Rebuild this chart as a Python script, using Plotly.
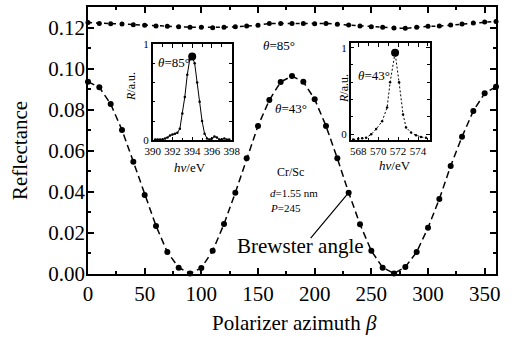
import plotly.graph_objects as go

# ---- data ----
beta = list(range(0, 361, 10))
r85 = [0.1224, 0.1220, 0.1219, 0.1217, 0.1214, 0.1211, 0.1207, 0.1206, 0.1204, 0.1202,
       0.1201, 0.1199, 0.1201, 0.1204, 0.1207, 0.1211, 0.1220, 0.1220, 0.1220, 0.1220,
       0.1219, 0.1220, 0.1216, 0.1212, 0.1207, 0.1204, 0.1201, 0.1198, 0.1196, 0.1201,
       0.1206, 0.1207, 0.1212, 0.1217, 0.1222, 0.1227, 0.1230]
r43 = [0.0936, 0.0909, 0.0828, 0.0701, 0.0547, 0.0385, 0.0234, 0.0107, 0.0031, 0.0003,
       0.0029, 0.0113, 0.0243, 0.0396, 0.0563, 0.0721, 0.0847, 0.0935, 0.0964, 0.0936,
       0.0851, 0.0721, 0.0563, 0.0396, 0.0242, 0.0113, 0.0031, 0.0003, 0.0034, 0.0107,
       0.0225, 0.0365, 0.0526, 0.0668, 0.0794, 0.0880, 0.0912]

# inset 1: spectrum at theta = 85 deg
e1 = [390.25, 390.5, 390.75, 391.0, 391.25, 391.5, 391.75, 392.0, 392.25, 392.5, 392.75,
      393.0, 393.25, 393.5, 393.75, 394.0, 394.25, 394.5, 394.75, 395.0, 395.25, 395.5,
      395.75, 396.0, 396.25, 396.5, 396.75, 397.0, 397.25, 397.5, 397.75]
s1 = [0.01, 0.01, 0.01, 0.01, 0.02, 0.03, 0.05, 0.06, 0.07, 0.08, 0.12,
      0.28, 0.45, 0.68, 0.84, 0.87, 0.80, 0.60, 0.40, 0.20, 0.07, 0.02,
      0.01, 0.02, 0.04, 0.03, 0.01, 0.01, 0.02, 0.01, 0.01]
peak1_e, peak1_r = [394.0], [0.87]

# inset 2: spectrum at theta = 43 deg
e2 = [567.5, 568.0, 568.4, 568.8, 569.3, 569.8, 570.4, 570.9, 571.2, 571.7,
      572.1, 572.5, 572.8, 573.3, 573.8, 574.3, 574.8]
s2 = [-0.06, -0.05, -0.045, -0.04, 0.0, 0.06, 0.15, 0.31, 0.60, 0.94,
      0.60, 0.23, 0.08, 0.02, -0.01, -0.03, -0.04]
peak2_e, peak2_r = [571.7], [0.94]

FONT = "Liberation Serif, DejaVu Serif, serif"
fig = go.Figure()

fig.add_trace(go.Scatter(x=beta, y=r85, mode="lines+markers", cliponaxis=False,
                         line=dict(color="black", width=1.5, dash="4px,4px"),
                         marker=dict(color="black", size=5), showlegend=False))
fig.add_trace(go.Scatter(x=beta, y=r43, mode="lines+markers", cliponaxis=False,
                         line=dict(color="black", width=1.5, dash="7px,4px"),
                         marker=dict(color="black", size=6), showlegend=False))

fig.add_trace(go.Scatter(x=e1, y=s1, xaxis="x2", yaxis="y2", mode="lines+markers",
                         line=dict(color="black", width=1), marker=dict(color="black", size=2.5),
                         showlegend=False))
fig.add_trace(go.Scatter(x=peak1_e, y=peak1_r, xaxis="x2", yaxis="y2", mode="markers",
                         marker=dict(color="black", size=8), showlegend=False))
fig.add_trace(go.Scatter(x=e2, y=s2, xaxis="x3", yaxis="y3", mode="lines+markers",
                         line=dict(color="black", width=1, dash="2px,2px"),
                         marker=dict(color="black", size=2.5), showlegend=False))
fig.add_trace(go.Scatter(x=peak2_e, y=peak2_r, xaxis="x3", yaxis="y3", mode="markers",
                         marker=dict(color="black", size=8), showlegend=False))

main_ax = dict(showline=True, linecolor="black", linewidth=1.5, mirror="ticks",
               ticks="inside", ticklen=6, tickwidth=1.5, tickcolor="black",
               showgrid=False, zeroline=False, automargin=False,
               tickfont=dict(family=FONT, size=21, color="black"))
inset_ax = dict(showline=True, linecolor="black", linewidth=1.5, mirror="ticks",
                ticks="inside", ticklen=4, tickwidth=1, tickcolor="black",
                showgrid=False, zeroline=False, tickangle=0, automargin=False,
                tickfont=dict(family=FONT, size=11, color="black"))

fig.update_layout(
    template="none",
    width=512, height=337,
    margin=dict(l=88, r=16, t=7, b=63, pad=0),
    paper_bgcolor="white", plot_bgcolor="white",
    font=dict(family=FONT, color="black"),
    xaxis=dict(main_ax, range=[0, 360], tick0=0, dtick=50,
               minor=dict(dtick=25, ticks="inside", ticklen=3, tickcolor="black")),
    yaxis=dict(main_ax, range=[0, 0.13], tick0=0, dtick=0.02, tickformat=".2f",
               ticklabelstandoff=-3,
               minor=dict(dtick=0.01, ticks="inside", ticklen=3, tickcolor="black")),
    xaxis2=dict(inset_ax, domain=[0.1586, 0.3522], anchor="y2", range=[390, 398],
                tickvals=[390, 392, 394, 396, 398],
                minor=dict(dtick=1, ticks="inside", ticklen=3, tickcolor="black")),
    yaxis2=dict(inset_ax, domain=[0.5004, 0.8614], anchor="x2", range=[0, 1],
                tickvals=[0, 1],
                minor=dict(tick0=0, dtick=0.2, ticks="inside", ticklen=3, tickcolor="black")),
    xaxis3=dict(inset_ax, domain=[0.6439, 0.8382], anchor="y3", range=[567.25, 575.2],
                tickvals=[568, 570, 572, 574],
                minor=dict(dtick=1, ticks="inside", ticklen=3, tickcolor="black")),
    yaxis3=dict(inset_ax, domain=[0.5004, 0.864], anchor="x3", range=[-0.07, 1.05],
                tickvals=[0, 1],
                minor=dict(tick0=0, dtick=0.2, ticks="inside", ticklen=3, tickcolor="black")),
)

# pixel -> paper fraction helpers (plot area: cols 88..496, rows 7..274)
def py(row):
    return (274 - row) / 267

def px(col):
    return (col - 88) / 408

def txt(text, col, row, size, xanchor="center", angle=0):
    fig.add_annotation(text=text, x=px(col), y=py(row), xref="paper", yref="paper",
                       xanchor=xanchor, yanchor="middle", showarrow=False,
                       textangle=angle, font=dict(family=FONT, size=size, color="black"))

txt("Reflectance", 20, 151, 21, angle=-90)
txt("Polarizer azimuth <i>β</i>", 294, 323, 21)
txt("<i>R</i>/a.u.", 131, 87, 12, angle=-90)
txt("<i>R</i>/a.u.", 344, 89, 12, angle=-90)
txt("<i>hν</i>/eV", 190, 167, 13)
txt("<i>hν</i>/eV", 395, 165, 13)
txt("<i>θ</i>=85°", 174, 63, 13)
txt("<i>θ</i>=43°", 374, 76, 13)
txt("<i>θ</i>=85°", 279, 45, 13)
txt("<i>θ</i>=43°", 291, 108, 13)
txt("Cr/Sc", 290, 172, 12)
txt("<i>d</i>=1.55 nm", 268, 193, 11, xanchor="left")
txt("<i>P</i>=245", 268, 208, 11, xanchor="left")
txt("Brewster angle", 235, 246, 21, xanchor="left")

i230 = beta.index(230)
fig.add_annotation(x=beta[i230], y=r43[i230], xref="x", yref="y", text=" ",
                   showarrow=True, arrowhead=0, arrowwidth=1.2, arrowcolor="black",
                   ax=-41, ay=49, standoff=0)

fig.write_html("out.html")
